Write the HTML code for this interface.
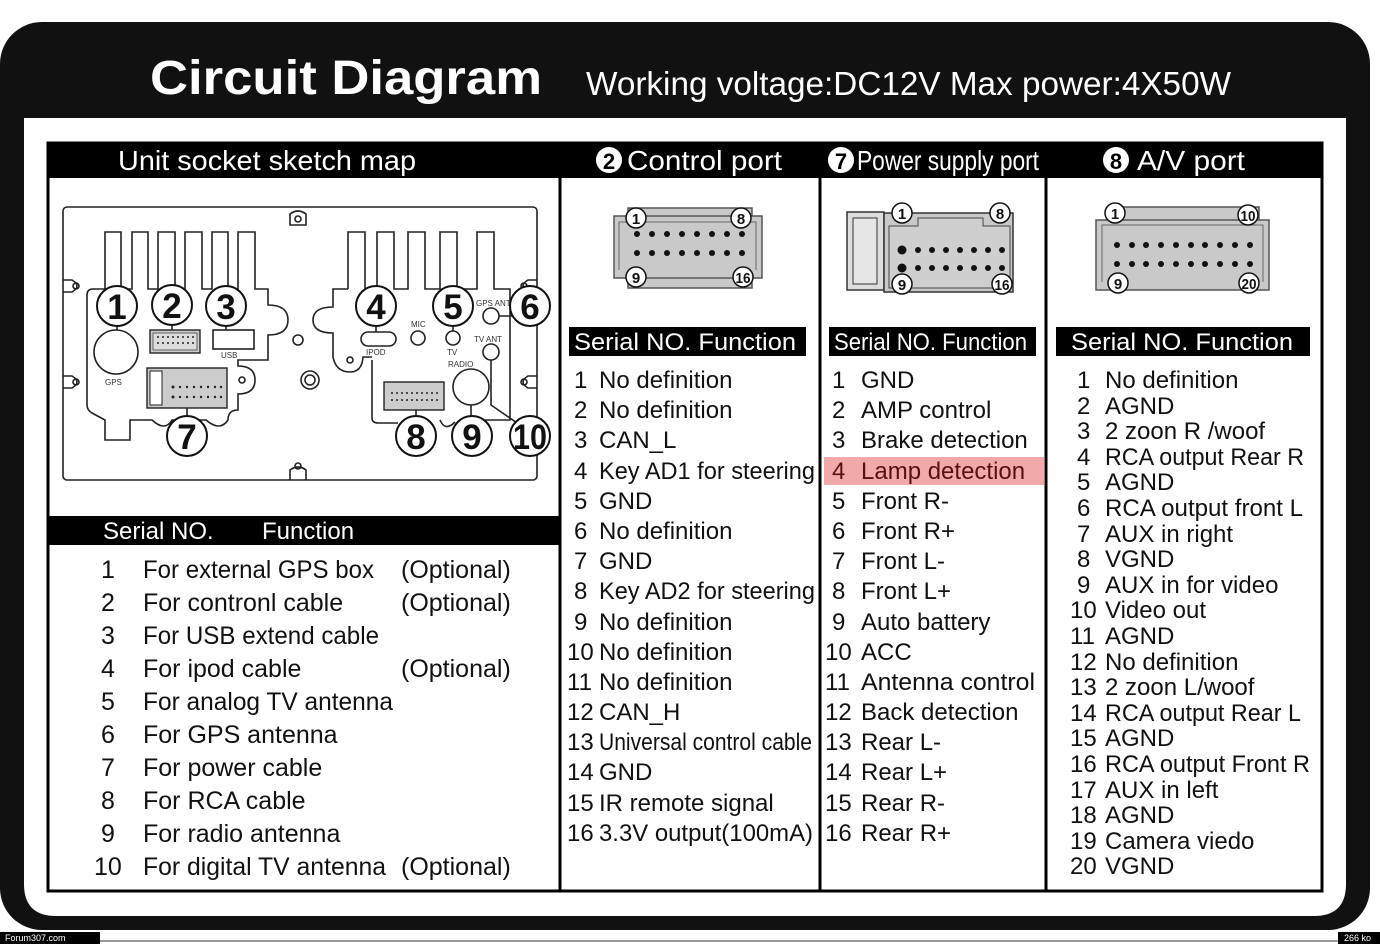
<!DOCTYPE html>
<html><head><meta charset="utf-8"><style>
html,body{margin:0;padding:0;background:#fff}
svg{display:block}
text{font-family:"Liberation Sans","DejaVu Sans",sans-serif}
</style></head><body>
<svg width="1380" height="944" viewBox="0 0 1380 944" xmlns="http://www.w3.org/2000/svg">
<rect width="1380" height="944" fill="#fff"/>
<rect x="0" y="22" width="1370" height="908" rx="42" fill="#111"/>
<path d="M24 118 H1346 V884 Q1346 916 1314 916 H56 Q24 916 24 884 Z" fill="#fff"/>
<rect x="0" y="932" width="100" height="12" fill="#000"/>
<rect x="1338" y="932" width="42" height="12" fill="#000"/>
<rect x="100" y="940" width="1238" height="2" fill="#999"/>
<text x="5" y="941" font-size="9" fill="#fff" font-family="Liberation Mono">Forum307.com</text>
<text x="1344" y="941" font-size="9" fill="#fff" font-family="Liberation Mono">266 ko</text>
<text x="150" y="94" font-size="48" font-weight="bold" fill="#fff" textLength="392" lengthAdjust="spacingAndGlyphs">Circuit Diagram</text>
<text x="586" y="95" font-size="33" fill="#fff" textLength="645" lengthAdjust="spacingAndGlyphs">Working voltage:DC12V  Max power:4X50W</text>
<rect x="48" y="143" width="1274" height="748" fill="none" stroke="#000" stroke-width="3"/>
<rect x="47" y="142" width="1276" height="36" fill="#000"/>
<line x1="560" y1="142" x2="560" y2="892" stroke="#000" stroke-width="3"/>
<line x1="820" y1="142" x2="820" y2="892" stroke="#000" stroke-width="3"/>
<line x1="1046" y1="142" x2="1046" y2="892" stroke="#000" stroke-width="3"/>
<text x="118" y="170" font-size="28" fill="#fff" textLength="298" lengthAdjust="spacingAndGlyphs">Unit socket sketch map</text>
<circle cx="609" cy="160" r="13" fill="#fff"/><text x="609" y="169" font-size="22" font-weight="bold" text-anchor="middle" fill="#000">2</text>
<text x="627" y="170" font-size="28" fill="#fff" textLength="155" lengthAdjust="spacingAndGlyphs">Control port</text>
<circle cx="841" cy="160" r="13" fill="#fff"/><text x="841" y="169" font-size="22" font-weight="bold" text-anchor="middle" fill="#000">7</text>
<text x="857" y="170" font-size="28" fill="#fff" textLength="182" lengthAdjust="spacingAndGlyphs">Power supply port</text>
<circle cx="1116" cy="160" r="13" fill="#fff"/><text x="1116" y="169" font-size="22" font-weight="bold" text-anchor="middle" fill="#000">8</text>
<text x="1137" y="170" font-size="28" fill="#fff" textLength="108" lengthAdjust="spacingAndGlyphs">A/V port</text>

<!-- sketch map -->
<g fill="none" stroke="#222" stroke-width="1.6">
<rect x="63" y="207" width="474" height="273" rx="4"/>
<path d="M105 289 V232 H121 V289 H132 V232 H148 V289 H158 V232 H175 V289 H185 V232 H202 V289 H212 V232 H228 V289 H238 V232 H255 V289 H268 V305 Q288 305 288 320 Q288 335 268 335 V360 H238 V366 Q255 366 255 380 Q255 394 238 394 V410 Q228 410 228 420 Q220 432 206 420 H172 Q165 432 152 420 H130 V440 H105 V420 L92 413 Q87 410 87 405 V295 Q87 289 93 289 Z"/>
<path d="M348 289 V232 H365 V289 H377 V232 H394 V289 H408 V232 H425 V289 H440 V232 H457 V289 H477 V232 H494 V289 H510 V420 H485 M440 420 Q445 432 455 422 M372 360 V418 Q372 423 378 423 H398"/>
<path d="M348 289 H333 V307 Q313 307 313 320 Q313 333 333 333 V357 Q336 372 350 372 Q362 372 363 357 H372"/>
<path d="M290 214 Q298 208 306 214 V225 H290 Z"/><circle cx="298" cy="219" r="3"/>
<path d="M290 480 V470 Q298 464 306 470 V480"/><circle cx="298" cy="466" r="3"/>
<path d="M63 280 H72 Q82 286 72 292 H63 M63 376 H72 Q82 382 72 388 H63 M537 280 H528 Q518 286 528 292 H537 M537 376 H528 Q518 382 528 388 H537"/>
<circle cx="76" cy="286" r="3"/><circle cx="76" cy="382" r="3"/>
<circle cx="524" cy="286" r="3"/><circle cx="524" cy="382" r="3"/>
<circle cx="116" cy="352" r="22"/>
<rect x="213" y="330" width="41" height="19"/>
<circle cx="298" cy="340" r="5"/>
<circle cx="310" cy="380" r="9"/><circle cx="310" cy="380" r="5"/>
<rect x="361" y="332" width="35" height="14" rx="7"/>
<circle cx="418" cy="338" r="7"/><circle cx="453" cy="338" r="7"/>
<circle cx="491" cy="316" r="8"/><circle cx="491" cy="352" r="8"/>
<circle cx="471" cy="387" r="18"/>
<circle cx="350" cy="360" r="3"/>
<circle cx="242" cy="380" r="3"/>
<path d="M491 360 V405 L520 425 M471 405 V420 M416 410 V420 M187 400 V420 M172 323 V330 M226 323 V330 M117 324 V330 M376 324 V332 M453 324 V331 M499 316 H512"/>
</g>
<rect x="150" y="330" width="50" height="23" fill="#ccc" stroke="#222" stroke-width="1.4"/>
<rect x="153" y="333" width="44" height="17" fill="#ddd" stroke="#444" stroke-width="0.8"/>
<rect x="147" y="368" width="80" height="40" fill="#ccc" stroke="#222" stroke-width="1.4"/>
<rect x="150" y="371" width="12" height="34" fill="#fff" stroke="#222" stroke-width="1"/>
<rect x="384" y="382" width="60" height="28" fill="#ccc" stroke="#222" stroke-width="1.4"/>
<g fill="#222">
<circle cx="158" cy="337" r="1"/><circle cx="163" cy="337" r="1"/><circle cx="168" cy="337" r="1"/><circle cx="173" cy="337" r="1"/><circle cx="178" cy="337" r="1"/><circle cx="183" cy="337" r="1"/><circle cx="188" cy="337" r="1"/><circle cx="193" cy="337" r="1"/>
<circle cx="158" cy="343" r="1"/><circle cx="163" cy="343" r="1"/><circle cx="168" cy="343" r="1"/><circle cx="173" cy="343" r="1"/><circle cx="178" cy="343" r="1"/><circle cx="183" cy="343" r="1"/><circle cx="188" cy="343" r="1"/><circle cx="193" cy="343" r="1"/>
<circle cx="173" cy="387" r="1.5"/><circle cx="180" cy="387" r="1.2"/><circle cx="187" cy="387" r="1.2"/><circle cx="194" cy="387" r="1.2"/><circle cx="201" cy="387" r="1.2"/><circle cx="208" cy="387" r="1.2"/><circle cx="215" cy="387" r="1.2"/><circle cx="221" cy="387" r="1.2"/>
<circle cx="173" cy="397" r="1.5"/><circle cx="180" cy="397" r="1.2"/><circle cx="187" cy="397" r="1.2"/><circle cx="194" cy="397" r="1.2"/><circle cx="201" cy="397" r="1.2"/><circle cx="208" cy="397" r="1.2"/><circle cx="215" cy="397" r="1.2"/><circle cx="221" cy="397" r="1.2"/>
<circle cx="392" cy="393" r="1"/><circle cx="397" cy="393" r="1"/><circle cx="402" cy="393" r="1"/><circle cx="407" cy="393" r="1"/><circle cx="412" cy="393" r="1"/><circle cx="417" cy="393" r="1"/><circle cx="422" cy="393" r="1"/><circle cx="427" cy="393" r="1"/><circle cx="432" cy="393" r="1"/><circle cx="437" cy="393" r="1"/>
<circle cx="392" cy="400" r="1"/><circle cx="397" cy="400" r="1"/><circle cx="402" cy="400" r="1"/><circle cx="407" cy="400" r="1"/><circle cx="412" cy="400" r="1"/><circle cx="417" cy="400" r="1"/><circle cx="422" cy="400" r="1"/><circle cx="427" cy="400" r="1"/><circle cx="432" cy="400" r="1"/><circle cx="437" cy="400" r="1"/>
</g>
<g font-size="8" fill="#333">
<text x="105" y="385">GPS</text><text x="221" y="358">USB</text><text x="366" y="355">IPOD</text>
<text x="411" y="327">MIC</text><text x="447" y="355">TV</text><text x="448" y="367">RADIO</text>
<text x="476" y="306">GPS ANT</text><text x="474" y="342">TV ANT</text></g>
<g fill="#fff" stroke="#111" stroke-width="2">
<circle cx="117" cy="306" r="20"/><circle cx="172" cy="305" r="20"/><circle cx="226" cy="306" r="20"/>
<circle cx="376" cy="306" r="20"/><circle cx="453" cy="306" r="20"/><circle cx="530" cy="306" r="20"/>
<circle cx="187" cy="436" r="20"/><circle cx="416" cy="436" r="20"/><circle cx="472" cy="436" r="20"/><circle cx="530" cy="436" r="20"/></g>
<g font-size="35" font-weight="bold" text-anchor="middle" fill="#111">
<text x="117" y="319">1</text><text x="172" y="318">2</text><text x="226" y="319">3</text>
<text x="376" y="319">4</text><text x="453" y="319">5</text><text x="530" y="319">6</text>
<text x="187" y="449">7</text><text x="416" y="449">8</text><text x="472" y="449">9</text>
<text x="530" y="449" textLength="34" lengthAdjust="spacingAndGlyphs">10</text></g>

<rect x="47" y="516" width="513" height="29" fill="#000"/>
<text x="103" y="539" font-size="24" fill="#fff">Serial NO.</text>
<text x="262" y="539" font-size="24" fill="#fff">Function</text>
<g font-size="25" fill="#111">
<text x="101" y="578">1</text><text x="143" y="578" textLength="231" lengthAdjust="spacingAndGlyphs">For external GPS box</text><text x="401" y="578">(Optional)</text>
<text x="101" y="611">2</text><text x="143" y="611">For contronl cable</text><text x="401" y="611">(Optional)</text>
<text x="101" y="644">3</text><text x="143" y="644" textLength="236" lengthAdjust="spacingAndGlyphs">For USB extend cable</text>
<text x="101" y="677">4</text><text x="143" y="677">For ipod cable</text><text x="401" y="677">(Optional)</text>
<text x="101" y="710">5</text><text x="143" y="710" textLength="250" lengthAdjust="spacingAndGlyphs">For analog TV antenna</text>
<text x="101" y="743">6</text><text x="143" y="743">For GPS antenna</text>
<text x="101" y="776">7</text><text x="143" y="776">For power cable</text>
<text x="101" y="809">8</text><text x="143" y="809">For RCA cable</text>
<text x="101" y="842">9</text><text x="143" y="842">For radio antenna</text>
<text x="94" y="875">10</text><text x="143" y="875" textLength="243" lengthAdjust="spacingAndGlyphs">For digital TV antenna</text><text x="401" y="875">(Optional)</text>
</g>

<rect x="628" y="208" width="124" height="80" fill="#c9c9c9" stroke="#555" stroke-width="1.5"/>
<rect x="614" y="216" width="148" height="62" fill="#c9c9c9" stroke="#555" stroke-width="1.5"/>
<path d="M619 270 V222 H756 V270" fill="none" stroke="#666" stroke-width="1"/>
<g fill="#111">
<circle cx="637" cy="234" r="3"/><circle cx="652" cy="234" r="3"/><circle cx="667" cy="234" r="3"/><circle cx="682" cy="234" r="3"/><circle cx="697" cy="234" r="3"/><circle cx="712" cy="234" r="3"/><circle cx="727" cy="234" r="3"/><circle cx="742" cy="234" r="3"/>
<circle cx="637" cy="253" r="3"/><circle cx="652" cy="253" r="3"/><circle cx="667" cy="253" r="3"/><circle cx="682" cy="253" r="3"/><circle cx="697" cy="253" r="3"/><circle cx="712" cy="253" r="3"/><circle cx="727" cy="253" r="3"/><circle cx="742" cy="253" r="3"/></g>
<rect x="847" y="212" width="37" height="78" fill="#ddd" stroke="#333" stroke-width="1.5"/>
<rect x="853" y="218" width="24" height="66" fill="#e6e6e6" stroke="#333" stroke-width="1"/>
<rect x="884" y="213" width="129" height="79" fill="#c9c9c9" stroke="#333" stroke-width="1.5"/>
<path d="M889 240 V226 H918 V218 H983 V226 H1010 V288 H889 Z" fill="#cfcfcf" stroke="#444" stroke-width="1"/>
<g fill="#111">
<circle cx="902" cy="250" r="4.5"/><circle cx="918" cy="250" r="3"/><circle cx="932" cy="250" r="3"/><circle cx="946" cy="250" r="3"/><circle cx="960" cy="250" r="3"/><circle cx="974" cy="250" r="3"/><circle cx="988" cy="250" r="3"/><circle cx="1002" cy="250" r="3"/>
<circle cx="902" cy="268" r="4.5"/><circle cx="918" cy="268" r="3"/><circle cx="932" cy="268" r="3"/><circle cx="946" cy="268" r="3"/><circle cx="960" cy="268" r="3"/><circle cx="974" cy="268" r="3"/><circle cx="988" cy="268" r="3"/><circle cx="1002" cy="268" r="3"/></g>
<rect x="1116" y="207" width="143" height="20" fill="#c9c9c9" stroke="#555" stroke-width="1.5"/>
<rect x="1096" y="220" width="173" height="70" fill="#c9c9c9" stroke="#555" stroke-width="1.5"/>
<path d="M1102 282 V225 H1263 V282" fill="none" stroke="#666" stroke-width="1"/>
<g fill="#111">
<circle cx="1117" cy="245" r="3"/><circle cx="1132" cy="245" r="3"/><circle cx="1146" cy="245" r="3"/><circle cx="1161" cy="245" r="3"/><circle cx="1176" cy="245" r="3"/><circle cx="1191" cy="245" r="3"/><circle cx="1205" cy="245" r="3"/><circle cx="1220" cy="245" r="3"/><circle cx="1235" cy="245" r="3"/><circle cx="1250" cy="245" r="3"/>
<circle cx="1117" cy="264" r="3"/><circle cx="1132" cy="264" r="3"/><circle cx="1146" cy="264" r="3"/><circle cx="1161" cy="264" r="3"/><circle cx="1176" cy="264" r="3"/><circle cx="1191" cy="264" r="3"/><circle cx="1205" cy="264" r="3"/><circle cx="1220" cy="264" r="3"/><circle cx="1235" cy="264" r="3"/><circle cx="1250" cy="264" r="3"/></g>
<g fill="#fff" stroke="#111" stroke-width="1.5">
<circle cx="636" cy="218" r="10"/><circle cx="741" cy="218" r="10"/><circle cx="636" cy="277" r="10"/><circle cx="743" cy="277" r="10"/>
<circle cx="902" cy="213" r="10"/><circle cx="1000" cy="213" r="10"/><circle cx="902" cy="284" r="10"/><circle cx="1002" cy="284" r="10"/>
<circle cx="1115" cy="213" r="10"/><circle cx="1248" cy="215" r="10"/><circle cx="1118" cy="283" r="10"/><circle cx="1249" cy="283" r="10"/></g>
<g font-size="15" font-weight="bold" text-anchor="middle" fill="#111">
<text x="636" y="224">1</text><text x="741" y="224">8</text><text x="636" y="283">9</text><text x="743" y="283" textLength="15" lengthAdjust="spacingAndGlyphs">16</text>
<text x="902" y="219">1</text><text x="1000" y="219">8</text><text x="902" y="290">9</text><text x="1002" y="290" textLength="15" lengthAdjust="spacingAndGlyphs">16</text>
<text x="1115" y="219">1</text><text x="1248" y="221" textLength="15" lengthAdjust="spacingAndGlyphs">10</text><text x="1118" y="289">9</text><text x="1249" y="289" textLength="15" lengthAdjust="spacingAndGlyphs">20</text></g>

<rect x="569" y="327" width="237" height="29" fill="#000"/>
<text x="574" y="350" font-size="24" fill="#fff" textLength="222" lengthAdjust="spacingAndGlyphs">Serial NO.  Function</text>
<rect x="829" y="327" width="207" height="29" fill="#000"/>
<text x="834" y="350" font-size="24" fill="#fff" textLength="193" lengthAdjust="spacingAndGlyphs">Serial NO.  Function</text>
<rect x="1056" y="327" width="254" height="29" fill="#000"/>
<text x="1071" y="350" font-size="24" fill="#fff" textLength="222" lengthAdjust="spacingAndGlyphs">Serial NO.  Function</text>

<g font-size="24" fill="#111">
<text x="574" y="388">1</text><text x="599" y="388">No definition</text>
<text x="574" y="418">2</text><text x="599" y="418">No definition</text>
<text x="574" y="448">3</text><text x="599" y="448">CAN_L</text>
<text x="574" y="479">4</text><text x="599" y="479" textLength="216" lengthAdjust="spacingAndGlyphs">Key AD1 for steering</text>
<text x="574" y="509">5</text><text x="599" y="509">GND</text>
<text x="574" y="539">6</text><text x="599" y="539">No definition</text>
<text x="574" y="569">7</text><text x="599" y="569">GND</text>
<text x="574" y="599">8</text><text x="599" y="599" textLength="216" lengthAdjust="spacingAndGlyphs">Key AD2 for steering</text>
<text x="574" y="630">9</text><text x="599" y="630">No definition</text>
<text x="567" y="660">10</text><text x="599" y="660">No definition</text>
<text x="567" y="690">11</text><text x="599" y="690">No definition</text>
<text x="567" y="720">12</text><text x="599" y="720">CAN_H</text>
<text x="567" y="750">13</text><text x="599" y="750" textLength="213" lengthAdjust="spacingAndGlyphs">Universal control cable</text>
<text x="567" y="780">14</text><text x="599" y="780">GND</text>
<text x="567" y="811">15</text><text x="599" y="811">IR remote signal</text>
<text x="567" y="841">16</text><text x="599" y="841" textLength="214" lengthAdjust="spacingAndGlyphs">3.3V output(100mA)</text>
</g>
<rect x="824" y="457" width="220" height="28" fill="#f2a9a9"/>
<g font-size="24" fill="#111">
<text x="832" y="388">1</text><text x="861" y="388">GND</text>
<text x="832" y="418">2</text><text x="861" y="418">AMP control</text>
<text x="832" y="448">3</text><text x="861" y="448">Brake detection</text>
<text x="832" y="479" fill="#5a1010">4</text><text x="861" y="479" fill="#5a1010">Lamp detection</text>
<text x="832" y="509">5</text><text x="861" y="509">Front R-</text>
<text x="832" y="539">6</text><text x="861" y="539">Front R+</text>
<text x="832" y="569">7</text><text x="861" y="569">Front L-</text>
<text x="832" y="599">8</text><text x="861" y="599">Front L+</text>
<text x="832" y="630">9</text><text x="861" y="630">Auto battery</text>
<text x="825" y="660">10</text><text x="861" y="660">ACC</text>
<text x="825" y="690">11</text><text x="861" y="690" textLength="174" lengthAdjust="spacingAndGlyphs">Antenna control</text>
<text x="825" y="720">12</text><text x="861" y="720">Back detection</text>
<text x="825" y="750">13</text><text x="861" y="750">Rear L-</text>
<text x="825" y="780">14</text><text x="861" y="780">Rear L+</text>
<text x="825" y="811">15</text><text x="861" y="811">Rear R-</text>
<text x="825" y="841">16</text><text x="861" y="841">Rear R+</text>
</g>
<g font-size="24" fill="#111">
<text x="1077" y="388">1</text><text x="1105" y="388">No definition</text>
<text x="1077" y="414">2</text><text x="1105" y="414">AGND</text>
<text x="1077" y="439">3</text><text x="1105" y="439">2 zoon R /woof</text>
<text x="1077" y="465">4</text><text x="1105" y="465" textLength="199" lengthAdjust="spacingAndGlyphs">RCA output Rear R</text>
<text x="1077" y="490">5</text><text x="1105" y="490">AGND</text>
<text x="1077" y="516">6</text><text x="1105" y="516" textLength="198" lengthAdjust="spacingAndGlyphs">RCA output front L</text>
<text x="1077" y="542">7</text><text x="1105" y="542">AUX in right</text>
<text x="1077" y="567">8</text><text x="1105" y="567">VGND</text>
<text x="1077" y="593">9</text><text x="1105" y="593">AUX in for video</text>
<text x="1070" y="618">10</text><text x="1105" y="618">Video out</text>
<text x="1070" y="644">11</text><text x="1105" y="644">AGND</text>
<text x="1070" y="670">12</text><text x="1105" y="670">No definition</text>
<text x="1070" y="695">13</text><text x="1105" y="695">2 zoon L/woof</text>
<text x="1070" y="721">14</text><text x="1105" y="721" textLength="196" lengthAdjust="spacingAndGlyphs">RCA output Rear L</text>
<text x="1070" y="746">15</text><text x="1105" y="746">AGND</text>
<text x="1070" y="772">16</text><text x="1105" y="772" textLength="205" lengthAdjust="spacingAndGlyphs">RCA output Front R</text>
<text x="1070" y="798">17</text><text x="1105" y="798">AUX in left</text>
<text x="1070" y="823">18</text><text x="1105" y="823">AGND</text>
<text x="1070" y="849">19</text><text x="1105" y="849">Camera viedo</text>
<text x="1070" y="874">20</text><text x="1105" y="874">VGND</text>
</g>
</svg>
</body></html>
